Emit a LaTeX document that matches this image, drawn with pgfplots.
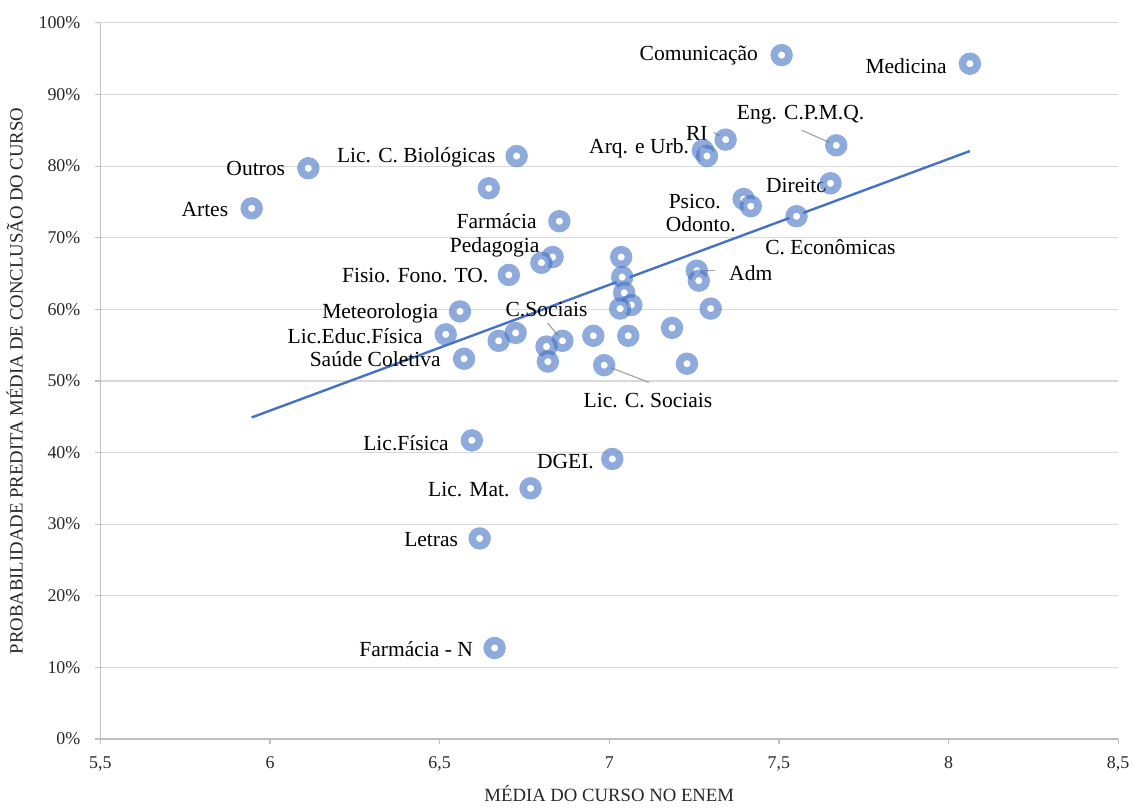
\documentclass[border=0pt]{standalone}
\usepackage{pgfplots}
\pgfplotsset{compat=1.18}
\usepackage{fontspec}
\setmainfont{Liberation Serif}
\definecolor{ringblue}{HTML}{4472C4}
\definecolor{gridgray}{HTML}{D9D9D9}
\definecolor{axgray}{HTML}{BFBFBF}
\definecolor{leadgray}{HTML}{A6A6A6}
\begin{document}
\begin{tikzpicture}
\begin{axis}[
  scale only axis,
  width=511pt, height=359.5pt,
  xmin=5.5, xmax=8.5, ymin=0, ymax=100,
  xtick={5.5,6,6.5,7,7.5,8,8.5},
  ytick={0,10,...,100},
  /pgf/number format/use comma,
  /pgf/number format/assume math mode=true,
  yticklabel={\pgfmathprintnumber{\tick}\%},
  axis x line*=bottom, axis y line*=left,
  axis line style={axgray, line width=0.6pt, -},
  tick align=outside, major tick length=2.5pt,
  tick style={axgray, line width=0.6pt},
  ymajorgrids, grid style={gridgray, line width=0.6pt},
  ticklabel style={font=\fontsize{9}{11}\selectfont, text=black!85},
  xticklabel style={yshift=-3pt},
  yticklabel style={xshift=-4pt},
  xlabel={MÉDIA DO CURSO NO ENEM},
  ylabel={PROBABILIDADE PREDITA MÉDIA DE CONCLUSÃO DO CURSO},
  label style={font=\fontsize{9.4}{11}\selectfont, text=black!85},
  xlabel style={yshift=0pt},
  ylabel style={yshift=1pt},
  clip=false,
]
% room above the plot, as in the reference
\path (rel axis cs:0,1) -- ++(0pt,11.5pt);
% trend line
\addplot[ringblue, line width=1.2pt, mark=none] coordinates {(5.946,44.9) (8.063,82.1)};
% courses
\addplot[only marks, mark=*, mark size=3.7pt,
  mark options={draw=ringblue, draw opacity=0.6, fill=white, line width=3.8pt}]
coordinates {
(7.508,95.5) (8.063,94.3) (7.669,82.9) (7.343,83.7) (7.276,82.2) (7.288,81.4)
(6.727,81.4) (6.113,79.7) (5.946,74.1) (6.645,76.9) (6.853,72.3) (7.652,77.6)
(7.396,75.4) (7.417,74.4) (7.552,73.0) (6.833,67.3) (6.800,66.5) (6.704,64.8)
(7.035,67.3) (7.038,64.5) (7.044,62.3) (7.065,60.6) (7.032,60.1)
(7.258,65.4) (7.264,64.0) (7.299,60.1) (6.560,59.7) (6.518,56.5) (6.674,55.6)
(6.724,56.7) (6.862,55.6) (6.815,54.8) (6.819,52.7) (6.572,53.1) (6.953,56.3)
(7.056,56.3) (7.185,57.4) (6.985,52.2) (7.229,52.4) (6.595,41.7) (7.009,39.1)
(6.768,35.0) (6.618,28.0) (6.662,12.7)
};
% leader lines
\draw[leadgray, line width=0.6pt] (axis cs:7.567,85.0) -- (axis cs:7.669,82.9);
\draw[leadgray, line width=0.6pt] (axis cs:7.308,84.7) -- (axis cs:7.343,83.7);
\draw[leadgray, line width=0.6pt] (axis cs:6.818,58.1) -- (axis cs:6.862,55.6);
\draw[leadgray, line width=0.6pt] (axis cs:7.117,49.8) -- (axis cs:6.985,52.2);
\draw[leadgray, line width=0.6pt] (axis cs:7.311,65.4) -- (axis cs:7.258,65.4);
% labels
\begin{scope}[every node/.style={font=\fontsize{10.8}{13}\selectfont, inner sep=0pt}]
\node at (axis cs:7.264,95.4) {Comunicação};
\node at (axis cs:7.875,93.9) {Medicina};
\node at (axis cs:7.564,87.2) {Eng. C.P.M.Q.};
\node at (axis cs:7.258,84.6) {RI};
\node at (axis cs:7.088,82.5) {Arq. e Urb.};
\node at (axis cs:6.431,81.2) {Lic. C. Biológicas};
\node at (axis cs:5.958,79.6) {Outros};
\node at (axis cs:5.808,73.9) {Artes};
\node at (axis cs:6.668,72.3) {Farmácia};
\node at (axis cs:6.662,68.6) {Pedagogia};
\node at (axis cs:6.428,64.7) {Fisio. Fono. TO.};
\node at (axis cs:6.325,59.5) {Meteorologia};
\node at (axis cs:6.815,59.9) {C.Sociais};
\node at (axis cs:6.251,56.2) {Lic.Educ.Física};
\node at (axis cs:6.310,53.0) {Saúde Coletiva};
\node at (axis cs:7.114,47.3) {Lic. C. Sociais};
\node at (axis cs:7.252,75.1) {Psico.};
\node at (axis cs:7.270,71.9) {Odonto.};
\node at (axis cs:7.552,77.3) {Direito};
\node at (axis cs:7.652,68.7) {C. Econômicas};
\node at (axis cs:7.417,65.1) {Adm};
\node at (axis cs:6.401,41.3) {Lic.Física};
\node at (axis cs:6.871,38.8) {DGEI.};
\node at (axis cs:6.586,34.9) {Lic. Mat.};
\node at (axis cs:6.475,27.8) {Letras};
\node at (axis cs:6.431,12.5) {Farmácia - N};
\end{scope}
\end{axis}
\end{tikzpicture}
\end{document}
